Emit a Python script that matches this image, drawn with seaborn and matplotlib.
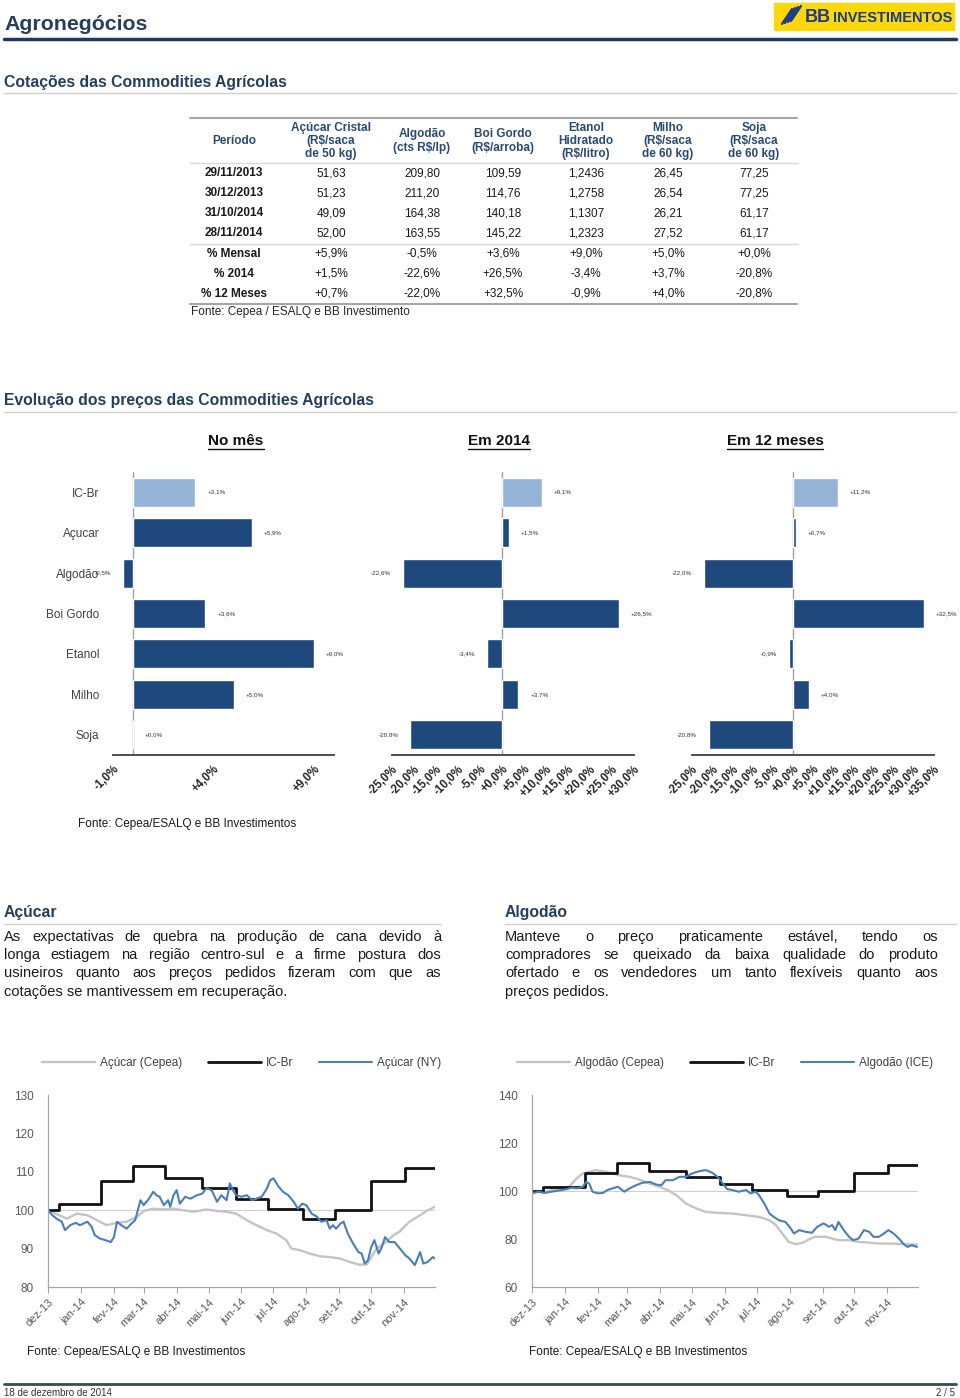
"""
Agronegócios - página 2/5: cotações e evolução dos preços das commodities agrícolas.
"""

import pandas as pd
import matplotlib
matplotlib.use("Agg")
import matplotlib.pyplot as plt
from matplotlib import font_manager
import seaborn as sns

sns.set_theme(style="white")
plt.rcParams["font.family"] = ["Liberation Sans", "DejaVu Sans"]

nomes_fontes = {f.name for f in font_manager.fontManager.ttflist}
ESTREITA = "Liberation Sans Narrow" if "Liberation Sans Narrow" in nomes_fontes else "Liberation Sans"
TEM_ESTREITA = ESTREITA == "Liberation Sans Narrow"

AZUL_TITULO = "#243f60"
AZUL_ESCURO = "#1f497d"
AZUL_CLARO = "#95b3d7"
AZUL_LINHA = "#4a7ebb"
CINZA_TEXTO = "#595959"

# ---------------------------------------------------------------
# Dados da tabela
# ---------------------------------------------------------------
colunas = ["Período", "Açúcar Cristal\n(R$/saca\nde 50 kg)", "Algodão\n(cts R$/lp)",
           "Boi Gordo\n(R$/arroba)", "Etanol\nHidratado\n(R$/litro)",
           "Milho\n(R$/saca\nde 60 kg)", "Soja\n(R$/saca\nde 60 kg)"]
datas_tab = ["29/11/2013", "30/12/2013", "31/10/2014", "28/11/2014"]
acucar_tab = ["51,63", "51,23", "49,09", "52,00"]
algodao_tab = ["209,80", "211,20", "164,38", "163,55"]
boi_tab = ["109,59", "114,76", "140,18", "145,22"]
etanol_tab = ["1,2436", "1,2758", "1,1307", "1,2323"]
milho_tab = ["26,45", "26,54", "26,21", "27,52"]
soja_tab = ["77,25", "77,25", "61,17", "61,17"]
var_rotulos = ["% Mensal", "% 2014", "% 12 Meses"]
var_mensal = ["+5,9%", "-0,5%", "+3,6%", "+9,0%", "+5,0%", "+0,0%"]
var_2014 = ["+1,5%", "-22,6%", "+26,5%", "-3,4%", "+3,7%", "-20,8%"]
var_12m = ["+0,7%", "-22,0%", "+32,5%", "-0,9%", "+4,0%", "-20,8%"]

# ---------------------------------------------------------------
# Dados das barras (variação %)
# ---------------------------------------------------------------
produtos = ["IC-Br", "Açucar", "Algodão", "Boi Gordo", "Etanol", "Milho", "Soja"]
no_mes = [3.1, 5.9, -0.5, 3.6, 9.0, 5.0, 0.0]
em_2014 = [9.1, 1.5, -22.6, 26.5, -3.4, 3.7, -20.8]
em_12_meses = [11.2, 0.7, -22.0, 32.5, -0.9, 4.0, -20.8]

# ---------------------------------------------------------------
# Dados das séries (base 100, dias desde 01/12/2013)
# ---------------------------------------------------------------
icbr_dias = [0, 10, 50, 80, 110, 145, 177, 207, 240, 270, 304, 336, 364]
icbr_val = [100.0, 101.6, 107.7, 111.5, 108.4, 105.8, 103.0, 100.3, 97.8, 100.0, 107.7, 111.0, 111.0]

acucar_cepea_dias = [0, 7, 18, 27, 37, 46, 55, 65, 74, 84, 90, 99, 109, 118, 127, 137, 149, 159, 168, 177,
                     187, 196, 206, 215, 224, 229, 237, 246, 256, 265, 275, 284, 293, 300, 309, 318, 325,
                     331, 340, 350, 356, 364]
acucar_cepea_val = [100.0, 99.1, 97.8, 99.1, 98.7, 97.4, 96.1, 96.7, 97.0, 98.3,
                    99.8, 100.4, 100.2, 100.4, 100.0, 99.6, 100.2, 99.8, 99.6, 99.1,
                    97.4, 96.1, 94.8, 93.9, 92.2, 90.0, 89.6, 88.7, 88.0, 87.8,
                    87.4, 86.5, 85.8, 85.9, 90.0, 91.7, 93.5, 94.5, 97.0, 98.7,
                    99.8, 100.9]

acucar_ny_dias = [0, 4, 8, 13, 16, 21, 26, 30, 37, 41,
                  44, 49, 54, 59, 62, 65, 69, 74, 77, 82,
                  87, 90, 95, 99, 102, 105, 109, 113, 115, 118,
                  121, 124, 129, 134, 140, 145, 149, 154, 159, 163,
                  168, 171, 174, 177, 182, 187, 192, 196, 201, 206,
                  209, 212, 217, 221, 226, 231, 235, 239, 243, 248,
                  253, 257, 262, 265, 268, 271, 275, 278, 282, 287,
                  292, 295, 298, 301, 304, 307, 311, 314, 317, 321,
                  326, 331, 336, 340, 345, 350, 353, 357, 362, 364]
acucar_ny_val = [100.0, 98.7, 97.8, 97.0, 94.8, 96.1, 96.7, 96.1, 97.0, 95.7,
                 93.5, 92.6, 92.2, 91.7, 93.0, 97.0, 96.1, 95.2, 96.1, 97.4,
                 102.6, 101.3, 103.0, 104.8, 103.9, 103.5, 101.3, 102.6, 100.9, 103.9,
                 105.2, 101.7, 103.5, 103.0, 103.9, 104.3, 105.7, 105.2, 102.2, 103.9,
                 102.6, 107.0, 105.2, 103.9, 103.5, 103.9, 102.6, 103.0, 103.5, 105.7,
                 107.8, 108.3, 106.1, 104.8, 103.9, 102.2, 100.4, 101.7, 101.3, 99.1,
                 98.3, 97.0, 97.4, 95.2, 96.1, 95.2, 96.5, 97.0, 93.9, 91.3,
                 89.1, 88.7, 86.1, 87.0, 90.4, 92.2, 88.7, 90.4, 93.0, 91.7,
                 91.7, 90.0, 88.3, 87.4, 85.7, 89.1, 86.1, 86.5, 87.8, 87.4]

algodao_cepea_dias = [0, 13, 26, 35, 42, 48, 54, 60, 70, 76, 82, 92, 101, 111, 120, 128, 136, 145, 155, 164,
                      176, 189, 202, 214, 224, 230, 236, 242, 249, 255, 261, 267, 277, 283, 289, 299, 308,
                      318, 327, 339, 352, 363]
algodao_cepea_val = [99.7, 99.7, 101.1, 101.8, 105.2, 107.3, 108.0, 108.7, 108.0, 107.3,
                     106.6, 105.9, 104.8, 103.1, 101.8, 100.4, 98.3, 94.8, 92.7, 91.3,
                     90.9, 90.6, 89.9, 89.2, 87.8, 85.8, 82.3, 78.8, 77.8, 78.4,
                     79.8, 80.9, 80.9, 80.2, 79.5, 79.5, 78.8, 78.5, 78.1, 78.1,
                     77.8, 77.7]

algodao_ice_dias = [0, 6, 12, 18, 24, 31, 37, 43, 48, 51,
                    54, 57, 62, 67, 71, 76, 81, 87, 92, 98,
                    104, 111, 117, 122, 126, 133, 139, 145, 151, 158,
                    164, 170, 175, 180, 184, 189, 195, 202, 206, 211,
                    214, 219, 224, 228, 233, 239, 244, 247, 252, 258,
                    264, 269, 275, 280, 283, 286, 289, 294, 299, 303,
                    308, 313, 318, 322, 327, 332, 336, 341, 346, 350,
                    354, 358, 363]
algodao_ice_val = [99.0, 99.7, 99.2, 99.7, 100.1, 100.6, 101.3, 101.1, 101.8, 103.8,
                   103.1, 99.7, 99.0, 99.2, 100.4, 101.1, 101.8, 99.7, 101.1, 102.4,
                   103.4, 103.8, 102.7, 102.4, 104.5, 104.5, 105.9, 105.9, 107.3, 108.3,
                   108.7, 107.6, 105.9, 103.1, 100.8, 100.4, 99.7, 100.4, 99.0, 99.7,
                   98.3, 94.8, 90.6, 89.2, 87.8, 87.1, 84.4, 82.3, 83.7, 83.0,
                   82.6, 85.1, 86.5, 85.1, 85.8, 83.7, 87.1, 83.7, 80.9, 79.5,
                   80.2, 83.7, 83.0, 80.9, 80.9, 82.3, 83.7, 82.3, 80.2, 78.1,
                   76.7, 77.4, 76.7]

meses = ["dez-13", "jan-14", "fev-14", "mar-14", "abr-14", "mai-14", "jun-14",
         "jul-14", "ago-14", "set-14", "out-14", "nov-14"]

texto_acucar = ["As expectativas de quebra na produção de cana devido à",
                "longa estiagem na região centro-sul e a firme postura dos",
                "usineiros quanto aos preços pedidos fizeram com que as",
                "cotações se mantivessem em recuperação."]
texto_algodao = ["Manteve o preço praticamente estável, tendo os",
                 "compradores se queixado da baixa qualidade do produto",
                 "ofertado e os vendedores um tanto flexíveis quanto aos",
                 "preços pedidos."]

# ---------------------------------------------------------------
# Página (eixo de fundo em pixels)
# ---------------------------------------------------------------
W, H = 960, 1398
fig = plt.figure(figsize=(W / 100, H / 100), dpi=100)
bg = fig.add_axes([0, 0, 1, 1])
bg.set_xlim(0, W)
bg.set_ylim(H, 0)
bg.axis("off")
renderer = fig.canvas.get_renderer()


def eixo(x0, y0, x1, y1):
    return fig.add_axes([x0 / W, 1 - y1 / H, (x1 - x0) / W, (y1 - y0) / H])


def justificado(linhas, x0, x1, y0, dy, fs):
    for i, linha in enumerate(linhas):
        y = y0 + i * dy
        if i == len(linhas) - 1:
            bg.text(x0, y, linha, fontsize=fs, color="#1a1a1a", va="center", family=ESTREITA)
            continue
        palavras = linha.split()
        ts = [bg.text(0, y, p, fontsize=fs, color="#1a1a1a", va="center", family=ESTREITA)
              for p in palavras]
        ws = [t.get_window_extent(renderer).width for t in ts]
        gap = (x1 - x0 - sum(ws)) / (len(palavras) - 1)
        x = x0
        for t, w in zip(ts, ws):
            t.set_x(x)
            x += w + gap


fs_tit = 17 if TEM_ESTREITA else 15.3
fs_sec = 12.5 if TEM_ESTREITA else 11.3
fs_par = 12 if TEM_ESTREITA else 10.5

# cabeçalho
bg.text(4, 25, "Agronegócios", fontsize=fs_tit, fontweight="bold", color=AZUL_TITULO,
        va="center", family=ESTREITA)
bg.plot([4, 956], [39, 39], color="#1f3864", lw=2.5)
bg.add_patch(plt.Rectangle((774, 3), 180, 27, color="#fcd80a", zorder=1))
for k in range(4):
    bg.plot([782 + k * 3, 792 + k * 3], [24 - k, 9 - k], color="#1d3a8a", lw=1.6, zorder=2)
bg.text(805, 17, "BB", fontsize=13, fontweight="bold", color="#1d3a8a", va="center", family=ESTREITA)
bg.text(833, 18, "INVESTIMENTOS", fontsize=10.5, fontweight="bold", color="#1d3a8a",
        va="center", family=ESTREITA)

bg.text(4, 82, "Cotações das Commodities Agrícolas", fontsize=fs_sec, fontweight="bold",
        color=AZUL_TITULO, va="center", family=ESTREITA)
bg.plot([4, 956], [93, 93], color="#d0d0d0", lw=1)

# ---------------------------------------------------------------
# Tabela
# ---------------------------------------------------------------
xcol = [234, 331, 422, 503, 586, 668, 754]
for x, c in zip(xcol, colunas):
    bg.text(x, 141, c, fontsize=8.5, fontweight="bold", color="#2b4a72", ha="center",
            va="center", linespacing=1.15)
valores_tab = [acucar_tab, algodao_tab, boi_tab, etanol_tab, milho_tab, soja_tab]
for i, d in enumerate(datas_tab):
    y = 173 + i * 20
    bg.text(xcol[0], y, d, fontsize=8.5, fontweight="bold", color="#1a1a1a", ha="center", va="center")
    for x, col in zip(xcol[1:], valores_tab):
        bg.text(x, y, col[i], fontsize=8.5, color="#1a1a1a", ha="center", va="center")
for i, (rot, linha) in enumerate(zip(var_rotulos, [var_mensal, var_2014, var_12m])):
    y = 254 + i * 20
    bg.text(xcol[0], y, rot, fontsize=8.5, fontweight="bold", color="#1a1a1a", ha="center", va="center")
    for x, v in zip(xcol[1:], linha):
        bg.text(x, y, v, fontsize=8.5, color="#1a1a1a", ha="center", va="center")
bg.plot([190, 797], [118, 118], color="#a6a6a6", lw=1.5)
bg.plot([190, 797], [163, 163], color="#d9d9d9", lw=1)
bg.plot([190, 797], [244, 244], color="#d9d9d9", lw=1)
bg.plot([190, 797], [304, 304], color="#a6a6a6", lw=1.5)
bg.text(191, 312, "Fonte: Cepea / ESALQ e BB Investimento", fontsize=8.5, color="#262626", va="center")

# ---------------------------------------------------------------
# Barras
# ---------------------------------------------------------------
bg.text(4, 401, "Evolução dos preços das Commodities Agrícolas", fontsize=fs_sec, fontweight="bold",
        color=AZUL_TITULO, va="center", family=ESTREITA)
bg.plot([4, 956], [412, 412], color="#d0d0d0", lw=1)

for xc, sub in zip([236, 499, 775], ["No mês", "Em 2014", "Em 12 meses"]):
    t = bg.text(xc, 441, sub, fontsize=11, fontweight="bold", color="#111111", ha="center",
                va="center", family=ESTREITA)
    w = t.get_window_extent(renderer).width
    bg.plot([xc - w / 2, xc + w / 2], [449, 449], color="#111111", lw=1)

cores = [AZUL_CLARO] + [AZUL_ESCURO] * 6
paineis = [(113, 334, no_mes, (-1, 10), [-1, 4, 9]),
           (392, 634, em_2014, (-25, 30), list(range(-25, 31, 5))),
           (692, 934, em_12_meses, (-25, 35), list(range(-25, 36, 5)))]
for j, (x0, x1, vals, lim, ticks) in enumerate(paineis):
    ax = eixo(x0, 472, x1, 755)
    df = pd.DataFrame({"produto": produtos, "var": vals})
    sns.barplot(data=df, x="var", y="produto", hue="produto", palette=cores, legend=False,
                orient="h", width=0.72, saturation=1, ax=ax)
    ax.set_xlim(*lim)
    ax.set_ylim(6.5, -0.5)
    ax.axvline(0, color="#a0a0a0", lw=1, zorder=0)
    for s in ["top", "right", "left"]:
        ax.spines[s].set_visible(False)
    ax.spines["bottom"].set_color("#404040")
    ax.spines["bottom"].set_linewidth(1.3)
    ax.set_xlabel("")
    ax.set_ylabel("")
    ax.set_xticks(ticks)
    ax.set_xticklabels([f"{t:+.1f}%".replace(".", ",") for t in ticks], rotation=45, ha="right",
                       rotation_mode="anchor", fontsize=8.3, fontweight="bold", color="#262626")
    ax.tick_params(axis="x", length=0, pad=6)
    if j == 0:
        ax.tick_params(axis="y", length=0, pad=10, labelsize=8.5, labelcolor="#404040")
    else:
        ax.set_yticklabels([])
        ax.tick_params(axis="y", length=0)
    off = 12 * (lim[1] - lim[0]) / (x1 - x0)
    for i, v in enumerate(vals):
        rot = f"{v:+.1f}%".replace(".", ",")
        if v >= 0:
            ax.text(v + off, i, rot, fontsize=4.5, color="#333333", ha="left", va="center")
        else:
            ax.text(v - off, i, rot, fontsize=4.5, color="#333333", ha="right", va="center")

bg.text(78, 824, "Fonte: Cepea/ESALQ e BB Investimentos", fontsize=8.5, color="#1a1a1a", va="center")

# ---------------------------------------------------------------
# Comentários
# ---------------------------------------------------------------
bg.text(4, 913, "Açúcar", fontsize=fs_sec, fontweight="bold", color=AZUL_TITULO, va="center",
        family=ESTREITA)
bg.plot([4, 441], [924, 924], color="#d0d0d0", lw=1)
bg.text(505, 913, "Algodão", fontsize=fs_sec, fontweight="bold", color=AZUL_TITULO, va="center",
        family=ESTREITA)
bg.plot([505, 956], [924, 924], color="#d0d0d0", lw=1)
justificado(texto_acucar, 4, 441, 937, 18.2, fs_par)
justificado(texto_algodao, 505, 938, 937, 18.2, fs_par)

# ---------------------------------------------------------------
# Linhas
# ---------------------------------------------------------------
base = pd.Timestamp("2013-12-01")


def serie(dias, vals):
    return pd.DataFrame({"data": base + pd.to_timedelta(dias, unit="D"), "valor": vals})


graficos = [(48, 435, (80, 130), list(range(80, 131, 10)),
             ("Açúcar (Cepea)", acucar_cepea_dias, acucar_cepea_val),
             ("Açúcar (NY)", acucar_ny_dias, acucar_ny_val), 27),
            (532, 918, (60, 140), list(range(60, 141, 20)),
             ("Algodão (Cepea)", algodao_cepea_dias, algodao_cepea_val),
             ("Algodão (ICE)", algodao_ice_dias, algodao_ice_val), 529)]
ticks_meses = pd.date_range("2013-12-01", "2014-11-01", freq="MS")
for x0, x1, ylim, yt, cepea, externo, xf in graficos:
    ax = eixo(x0, 1095, x1, 1287)
    ax.axhline(100, color="#cfcfcf", lw=0.8, zorder=0)
    c = serie(cepea[1], cepea[2])
    sns.lineplot(data=c, x="data", y="valor", color="#c4c4c4", lw=1.7, label=cepea[0], ax=ax)
    ic = serie(icbr_dias, icbr_val)
    sns.lineplot(data=ic, x="data", y="valor", color="#111111", lw=2, drawstyle="steps-post",
                 label="IC-Br", ax=ax)
    e = serie(externo[1], externo[2])
    sns.lineplot(data=e, x="data", y="valor", color=AZUL_LINHA, lw=1.5, label=externo[0], ax=ax)
    ax.set_xlim(pd.Timestamp("2013-12-01"), pd.Timestamp("2014-11-30"))
    ax.set_ylim(*ylim)
    ax.set_yticks(yt)
    ax.set_xticks(ticks_meses)
    ax.set_xticklabels(meses, rotation=45, ha="right", rotation_mode="anchor", fontsize=8,
                       color=CINZA_TEXTO)
    ax.tick_params(axis="y", labelsize=8.5, labelcolor=CINZA_TEXTO, length=0, pad=10)
    ax.tick_params(axis="x", length=4, width=0.8, color="#a6a6a6", direction="out", bottom=True, pad=3)
    for s in ["top", "right"]:
        ax.spines[s].set_visible(False)
    for s in ["left", "bottom"]:
        ax.spines[s].set_color("#a6a6a6")
        ax.spines[s].set_linewidth(0.9)
    ax.set_xlabel("")
    ax.set_ylabel("")
    ax.legend(loc="center", bbox_to_anchor=(0.5, 1.165), ncol=3, frameon=False, fontsize=8.5,
              handlelength=4.5, columnspacing=2.2, handletextpad=0.4, labelcolor="#404040")
    bg.text(xf, 1352, "Fonte: Cepea/ESALQ e BB Investimentos", fontsize=8.5, color="#1a1a1a",
            va="center")

# rodapé
bg.plot([4, 956], [1384, 1384], color="#3a4a5a", lw=2)
bg.text(4, 1393, "18 de dezembro de 2014", fontsize=7, color="#333333", va="center")
bg.text(955, 1393, "2 / 5", fontsize=7, color="#333333", va="center", ha="right")

fig.savefig("out.png", dpi=100)
print("ok")
